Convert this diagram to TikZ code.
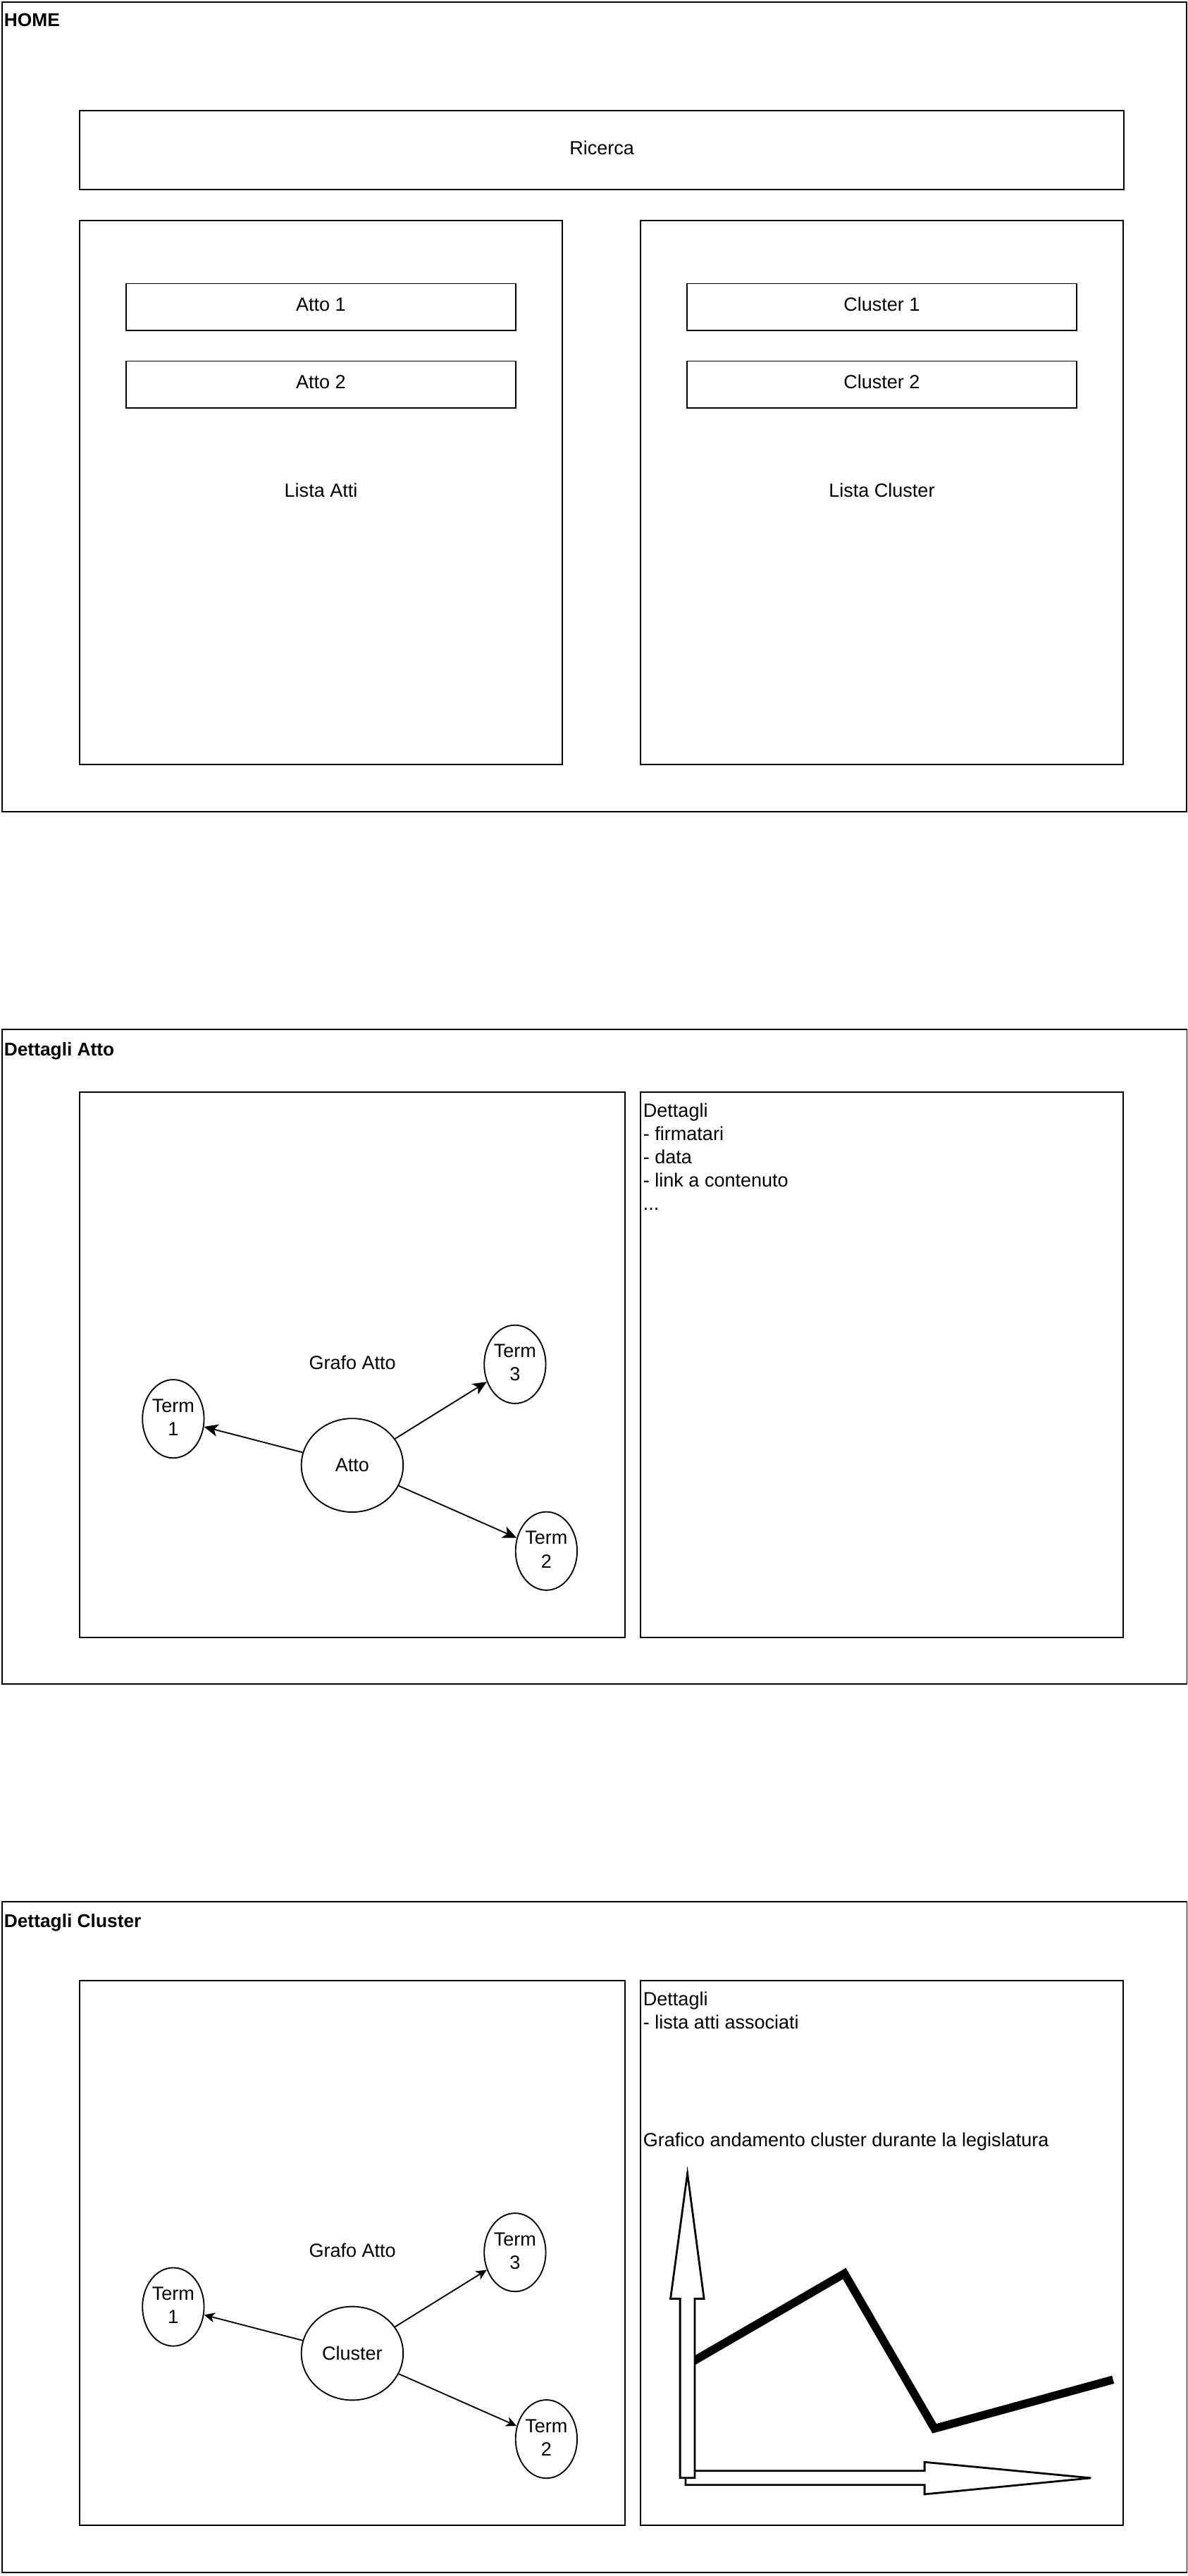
\documentclass[tikz,border=0pt]{standalone}
\usepackage{fontspec}
\setmainfont{Liberation Sans}
\usetikzlibrary{shapes.geometric,arrows.meta}
\newcommand\regfont{\fontsize{11.6}{14.2}\selectfont}
\newcommand\hdfont{\fontsize{11.3}{13.6}\selectfont\bfseries}
\tikzset{
  box/.style={draw=black, line width=0.8pt, anchor=north west, inner sep=0pt, font=\regfont, text=black, text height=8.3pt, text depth=3pt},
  hdr/.style={anchor=base west, inner sep=0pt, font=\hdfont},
  lbl/.style={inner sep=0pt, font=\regfont, align=center},
  ltxt/.style={anchor=base west, inner sep=0pt, font=\regfont},
  oval/.style={ellipse, draw=black, line width=0.8pt, inner sep=0pt, font=\regfont},
  aedge/.style={draw=black, line width=0.8pt, -{Stealth[length=8.5pt,width=7.5pt,inset=2.2pt]}},
  cedge/.style={draw=black, line width=0.8pt, -{Stealth[length=6.5pt,width=6pt,inset=1.8pt]}},
  bigarrow/.style={draw=black, line width=1.2pt, fill=white, line join=miter},
}
\begin{document}
\begin{tikzpicture}[x=1pt,y=-1pt]
\useasboundingbox[fill=white] (0,0) rectangle (723,1568.7);

% ---------------- HOME ----------------
\node[box, minimum width=721.4pt, minimum height=493pt] (home) at (0.86,0.86) {};
\node[hdr] (homelbl) at (2.3,16.3) {HOME};
\node[box, minimum width=636pt, minimum height=48pt] (ricerca) at (48.06,67.1) {Ricerca};
\node[box, minimum width=294pt, minimum height=331.1pt] (listaatti) at (48.06,134.0) {Lista Atti};
\node[box, minimum width=293.9pt, minimum height=331.1pt] (listacluster) at (389.6,134.0) {Lista Cluster};
\node[box, minimum width=237.2pt, minimum height=28.4pt] (atto1) at (76.4,172.3) {Atto 1};
\node[box, minimum width=237.2pt, minimum height=28.4pt] (atto2) at (76.4,219.5) {Atto 2};
\node[box, minimum width=237.3pt, minimum height=28.4pt] (cluster1) at (417.9,172.3) {Cluster 1};
\node[box, minimum width=237.3pt, minimum height=28.4pt] (cluster2) at (417.9,219.5) {Cluster 2};

% ---------------- Dettagli Atto ----------------
\node[box, minimum width=721.5pt, minimum height=398.7pt] (datto) at (0.86,626.5) {};
\node[hdr] (dattolbl) at (2.3,642.8) {Dettagli Atto};
\node[box, minimum width=332.3pt, minimum height=332.1pt] (grafoa) at (48.06,664.8) {Grafo Atto};
\node[box, minimum width=293.9pt, minimum height=332.1pt] (dettaglia) at (389.6,664.8) {};
\node[ltxt] (dettagliatxt) at (391.5,680.5) {\fontsize{11.6}{14.15}\selectfont\begin{tabular}[t]{@{}l@{}}Dettagli\\- firmatari\\- data\\- link a contenuto\\...\end{tabular}};

\node[oval, minimum width=62pt, minimum height=57pt] (attoc) at (214.5,892.3) {Atto};
\node[oval, minimum width=37.5pt, minimum height=47.7pt] (at1) at (105.5,864) {};
\node[lbl, yshift=0.9pt] (at1l) at (at1) {Term\\1};
\node[oval, minimum width=37.5pt, minimum height=47.7pt] (at3) at (313.6,830.8) {};
\node[lbl, yshift=0.9pt] (at3l) at (at3) {Term\\3};
\node[oval, minimum width=37.5pt, minimum height=47.7pt] (at2) at (332.7,944.5) {};
\node[lbl, yshift=0.9pt] (at2l) at (at2) {Term\\2};
\draw[aedge] (attoc) -- (at1);
\draw[aedge] (attoc) -- (at3);
\draw[aedge] (attoc) -- (at2);

% ---------------- Dettagli Cluster ----------------
\node[box, minimum width=721.5pt, minimum height=408.5pt] (dclust) at (0.86,1157.6) {};
\node[hdr] (dclustlbl) at (2.3,1173.9) {Dettagli Cluster};
\node[box, minimum width=332.3pt, minimum height=331.9pt] (grafoc) at (48.06,1205.6) {Grafo Atto};
\node[box, minimum width=293.9pt, minimum height=331.9pt] (dettaglic) at (389.6,1205.6) {};
\node[ltxt] (dettaglictxt) at (391.5,1221.4) {\begin{tabular}[t]{@{}l@{}}Dettagli\\- lista atti associati\end{tabular}};
\node[ltxt] (graficotxt) at (391.5,1307) {Grafico andamento cluster durante la legislatura};

\node[oval, minimum width=62pt, minimum height=57pt] (clc) at (214.5,1433.1) {Cluster};
\node[oval, minimum width=37.5pt, minimum height=47.7pt] (ct1) at (105.5,1404.8) {};
\node[lbl, yshift=0.9pt] (ct1l) at (ct1) {Term\\1};
\node[oval, minimum width=37.5pt, minimum height=47.7pt] (ct3) at (313.6,1371.6) {};
\node[lbl, yshift=0.9pt] (ct3l) at (ct3) {Term\\3};
\node[oval, minimum width=37.5pt, minimum height=47.7pt] (ct2) at (332.7,1485.3) {};
\node[lbl, yshift=0.9pt] (ct2l) at (ct2) {Term\\2};
\draw[cedge] (clc) -- (ct1);
\draw[cedge] (clc) -- (ct3);
\draw[cedge] (clc) -- (ct2);

% chart
\draw[bigarrow] (417.5,1504.6) -- (563,1504.6) -- (563,1499.3) -- (664.3,1509) -- (563,1518.9) -- (563,1513.2) -- (417.5,1513.2) -- cycle;
\draw[black, line width=5pt, line join=miter, line cap=butt] (418.5,1440) -- (514.2,1384.5) -- (569,1478.9) -- (677.8,1449.1);
\draw[bigarrow] (414.1,1508.9) -- (414.1,1399.8) -- (408.3,1399.8) -- (418.6,1323.5) -- (428.7,1399.8) -- (423.1,1399.8) -- (423.1,1508.9) -- cycle;
\end{tikzpicture}
\end{document}
